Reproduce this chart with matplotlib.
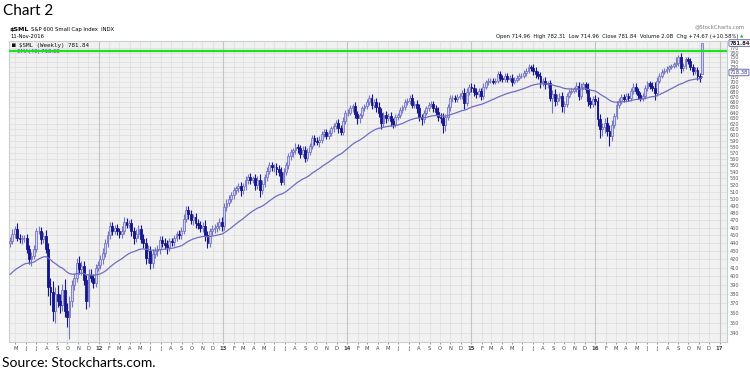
import numpy as np
import pandas as pd
import matplotlib
matplotlib.use("Agg")
import matplotlib.pyplot as plt
import matplotlib.dates as mdates

# Weekly closes of $SML (week ending Friday, from 15-Apr-2011)
closes_2011 = [443, 452, 458, 447, 445, 446, 446, 432, 420, 424, 433, 455, 456, 445, 449, 432,
               388, 382, 362, 380, 372, 368, 385, 362, 356, 372, 390, 398, 416, 408, 412, 396,
               372, 402, 398, 392, 410, 413]
closes_2012 = [420, 428, 440, 450, 462, 456, 460, 455, 452, 456, 468, 464, 466, 455, 447, 452,
               458, 445, 440, 422, 430, 416, 426, 430, 432, 444, 440, 438, 435, 442, 441, 446,
               452, 450, 456, 472, 484, 478, 470, 474, 466, 464, 460, 462, 450, 440, 455, 458,
               460, 462, 468, 462]
closes_2013 = [488, 494, 500, 505, 512, 515, 518, 512, 518, 528, 532, 528, 530, 520, 528, 512,
               522, 532, 542, 550, 548, 548, 545, 540, 525, 540, 550, 565, 572, 575, 580, 578,
               568, 575, 562, 572, 582, 595, 590, 588, 592, 602, 605, 598, 604, 612, 616, 622,
               612, 606, 625, 640]
closes_2014 = [640, 648, 652, 638, 630, 635, 648, 652, 660, 668, 655, 660, 650, 640, 622, 636,
               630, 634, 624, 620, 632, 635, 645, 650, 660, 662, 668, 655, 656, 648, 632, 628,
               640, 648, 655, 656, 648, 642, 632, 630, 618, 632, 650, 668, 668, 666, 670, 672,
               678, 658, 680, 690]
closes_2015 = [688, 680, 676, 682, 672, 690, 698, 702, 702, 700, 702, 716, 708, 706, 712, 706,
               708, 700, 704, 708, 712, 712, 718, 722, 730, 728, 722, 715, 712, 698, 702, 694,
               696, 668, 675, 662, 668, 672, 652, 656, 672, 680, 682, 685, 692, 672, 690, 694,
               686, 662, 656, 665]
closes_2016 = [662, 628, 610, 614, 622, 608, 598, 618, 634, 655, 662, 670, 666, 672, 668, 682,
               690, 682, 674, 668, 672, 688, 696, 692, 688, 678, 702, 712, 720, 722, 726, 730,
               732, 736, 738, 750, 728, 732, 746, 742, 730, 722, 724, 712, 707.17, 781.84]

# wick lengths above / below the candle body (index points)
up_wick = [5, 6, 4, 8, 5, 4, 4, 5, 6, 5, 4, 5, 6, 5, 5, 8, 8, 10, 12, 8, 10, 8, 6, 12, 8, 6,
           6, 6, 5, 8, 6, 6, 5, 6, 6, 5, 4, 5,
           5, 6, 5, 6, 5, 6, 4, 5, 5, 6, 6, 5, 4, 5, 6, 6, 5, 5, 6, 6, 8, 6, 6, 5, 5, 5, 5, 6,
           6, 5, 5, 4, 4, 5, 5, 6, 6, 5, 6, 5, 6, 6, 5, 6, 8, 6, 5, 6, 5, 5, 5, 6,
           6, 5, 5, 4, 5, 4, 5, 6, 5, 5, 5, 6, 4, 6, 5, 8, 5, 5, 5, 6, 6, 5, 6, 6, 8, 6, 5, 5,
           5, 4, 6, 5, 6, 6, 6, 6, 5, 5, 5, 6, 6, 5, 6, 6, 5, 4, 5, 5, 6, 6, 8, 5,
           6, 6, 5, 8, 6, 5, 5, 5, 6, 6, 8, 6, 8, 10, 8, 6, 8, 6, 8, 6, 5, 5, 5, 5, 5, 6, 6, 8,
           6, 8, 8, 6, 5, 5, 5, 5, 6, 6, 8, 8, 10, 6, 6, 6, 6, 6, 6, 5, 6, 10, 8, 5,
           6, 6, 8, 6, 6, 6, 5, 5, 5, 6, 6, 6, 6, 6, 6, 6, 5, 8, 6, 5, 5, 5, 5, 6, 6, 5, 8, 8,
           6, 8, 6, 8, 6, 8, 8, 10, 8, 6, 8, 6, 6, 5, 5, 5, 6, 8, 6, 5, 6, 10, 8, 6,
           8, 8, 10, 8, 8, 10, 10, 8, 6, 6, 5, 5, 5, 5, 6, 5, 6, 6, 6, 6, 6, 5, 6, 6, 6, 10,
           8, 5, 5, 5, 5, 5, 5, 5, 12, 6, 10, 6, 6, 6, 6, 6, 6, 6, 6, 0.5]
down_wick = [5, 4, 5, 4, 5, 6, 5, 4, 6, 8, 4, 4, 4, 6, 5, 4, 10, 14, 10, 12, 6, 8, 6, 6, 10,
             22, 6, 6, 5, 5, 6, 6, 8, 6, 5, 5, 4, 4,
             5, 6, 5, 5, 5, 6, 4, 5, 6, 6, 5, 4, 5, 6, 8, 6, 5, 5, 6, 8, 6, 8, 6, 5, 6, 5, 5, 6,
             8, 5, 5, 5, 4, 5, 5, 5, 5, 6, 5, 6, 6, 6, 6, 6, 8, 6, 5, 5, 5, 6, 5, 6,
             5, 6, 4, 5, 5, 6, 5, 8, 5, 5, 6, 6, 5, 8, 6, 10, 6, 5, 6, 6, 6, 8, 10, 6, 5, 5, 5, 6,
             6, 8, 6, 8, 6, 5, 6, 5, 6, 6, 6, 5, 8, 5, 6, 5, 5, 5, 6, 6, 8, 6, 6, 5,
             6, 5, 6, 8, 10, 8, 5, 5, 6, 6, 8, 6, 8, 8, 12, 8, 8, 6, 8, 8, 6, 5, 5, 5, 5, 6, 6, 6,
             6, 8, 8, 10, 6, 5, 5, 5, 6, 6, 8, 8, 14, 10, 6, 6, 8, 6, 6, 5, 6, 12, 6, 6,
             8, 8, 8, 6, 8, 6, 5, 5, 5, 6, 6, 5, 6, 6, 6, 6, 5, 8, 6, 5, 5, 5, 5, 6, 5, 6, 8, 8,
             6, 10, 6, 8, 6, 6, 28, 10, 8, 6, 10, 12, 6, 5, 5, 5, 6, 8, 6, 5, 8, 10, 8, 6,
             8, 12, 15, 12, 10, 10, 17, 8, 6, 6, 6, 6, 6, 6, 6, 6, 6, 6, 8, 6, 6, 6, 6, 6, 6, 14,
             6, 5, 5, 5, 5, 6, 5, 5, 6, 6, 10, 6, 6, 6, 6, 8, 6, 8, 8, 0]

first_open = 440
last_open = 714.96
ema_seed = 400          # EMA(40) value just before the first bar
resistance = 765        # green horizontal line

closes = closes_2011 + closes_2012 + closes_2013 + closes_2014 + closes_2015 + closes_2016
dates = pd.date_range("2011-04-15", periods=len(closes), freq="W-FRI")

c = np.array(closes, dtype=float)
o = np.r_[first_open, c[:-1]]
o[-1] = last_open
body_lo = np.minimum(o, c)
body_hi = np.maximum(o, c)
high = body_hi + np.array(up_wick)
low = body_lo - np.array(down_wick)

# EMA(40) of the weekly closes
alpha = 2 / 41
ema = []
prev = ema_seed
for v in c:
    prev = prev + alpha * (v - prev)
    ema.append(prev)
ema = np.array(ema)

# colours
DOWN = "#15158c"
UP_EDGE = "#7676c4"
UP_FACE = "#d2d2f0"
EMA_C = "#6e6ec2"
BG = "#f1f1f1"
GRID = "#dedede"
YEAR_GRID = "#c4c4c4"

fig = plt.figure(figsize=(7.5, 3.79), dpi=100)
ax = fig.add_axes([9 / 750, 1 - 341.5 / 379, (727 - 9) / 750, (341.5 - 41) / 379])
ax.set_facecolor(BG)
ax.set_yscale("log")
ax.set_ylim(331.6, 786.4)
ax.set_xlim(mdates.date2num(pd.Timestamp("2011-04-12")), mdates.date2num(pd.Timestamp("2017-01-23")))

# grid
yticks = np.arange(340, 780, 10)
for yv in yticks:
    ax.axhline(yv, color=GRID, lw=0.5, zorder=0)
months = pd.date_range("2011-05-01", "2017-01-01", freq="MS")
for m in months:
    ax.axvline(mdates.date2num(m), color=YEAR_GRID if m.month == 1 else GRID,
               lw=0.8 if m.month == 1 else 0.5, zorder=0)

x = mdates.date2num(dates)
up = c >= o
ax.vlines(x[up], low[up], high[up], color=UP_EDGE, lw=0.8, zorder=2)
ax.vlines(x[~up], low[~up], high[~up], color=DOWN, lw=0.8, zorder=2)
ax.bar(x[up], body_hi[up] - body_lo[up], bottom=body_lo[up], width=5.4,
       facecolor=UP_FACE, edgecolor=UP_EDGE, lw=0.6, zorder=3)
ax.bar(x[~up], body_hi[~up] - body_lo[~up], bottom=body_lo[~up], width=5.4,
       facecolor=DOWN, edgecolor=DOWN, lw=0.6, zorder=3)

ax.plot(x, ema, color=EMA_C, lw=0.9, zorder=4)
ax.axhline(resistance, color="#1ee01e", lw=1.6, zorder=5)

# axes styling
for s in ax.spines.values():
    s.set_color("#c5cfcf")
    s.set_linewidth(0.8)
ax.yaxis.tick_right()
ax.yaxis.set_major_locator(matplotlib.ticker.FixedLocator(yticks))
ax.yaxis.set_minor_locator(matplotlib.ticker.NullLocator())
ax.set_yticklabels(["" if v in (720, 780) else str(v) for v in yticks])
ax.tick_params(axis="y", length=0, pad=2, labelsize=3.6, labelcolor="#555555")

month_labels = ["J", "F", "M", "A", "M", "J", "J", "A", "S", "O", "N", "D"]
ax.set_xticks(mdates.date2num(months))
lbls = [m.strftime("%y") if m.month == 1 else month_labels[m.month - 1] for m in months]
ax.set_xticklabels(lbls)
ax.tick_params(axis="x", length=1.5, pad=1.5, labelsize=3.8, labelcolor="#444444", color="#999999")
for t, m in zip(ax.get_xticklabels(), months):
    if m.month == 1:
        t.set_fontweight("bold")

# value boxes on the right axis
ax.annotate("781.84", xy=(1.0, 781.84), xycoords=("axes fraction", "data"), xytext=(2, 0),
            textcoords="offset points", va="center", ha="left", fontsize=3.8, fontweight="bold",
            color="#222222", bbox=dict(boxstyle="round,pad=0.15", fc="white", ec="#5555aa", lw=0.6))
ax.annotate("718.38", xy=(1.0, 718.38), xycoords=("axes fraction", "data"), xytext=(2, 0),
            textcoords="offset points", va="center", ha="left", fontsize=3.8,
            color="#333366", bbox=dict(boxstyle="round,pad=0.15", fc="white", ec="#5555aa", lw=0.6))

# legend inside the plot
ax.text(0.004, 0.995, "\u25A0 $SML (Weekly) 781.84", transform=ax.transAxes, va="top", ha="left",
        fontsize=4.2, family="DejaVu Sans Mono", color="#111111")
ax.text(0.004, 0.975, "\u2014EMA(40) 718.38", transform=ax.transAxes, va="top", ha="left",
        fontsize=3.8, family="DejaVu Sans", color="#3333aa")

# header
fig.text(10 / 750, 1 - 30 / 379, "$SML", fontsize=4.6, fontweight="bold", va="center", ha="left")
fig.text(31 / 750, 1 - 30 / 379, "S&P 600 Small Cap Index  INDX", fontsize=3.8, va="center", ha="left")
fig.text(10 / 750, 1 - 36.5 / 379, "11-Nov-2016", fontsize=3.8, va="center", ha="left")
fig.text(745 / 750, 1 - 27 / 379, "@StockCharts.com", fontsize=3.8, va="center", ha="right", color="#777777")
fig.text(738 / 750, 1 - 36.5 / 379,
         "Open 714.96  High 782.31  Low 714.96  Close 781.84  Volume 2.0B  Chg +74.67 (+10.58%)",
         fontsize=3.8, va="center", ha="right", color="#111111")
fig.text(743 / 750, 1 - 36.5 / 379, "\u25B2", fontsize=3.2, va="center", ha="right", color="#22bb22")

fig.text(3 / 750, 1 - 11 / 379, "Chart 2", fontsize=11, family="Lato", va="center", ha="left")
fig.text(2 / 750, 1 - 363 / 379, "Source: Stockcharts.com.", fontsize=10, family="Lato",
         va="center", ha="left")

fig.savefig("out.png", dpi=100)
